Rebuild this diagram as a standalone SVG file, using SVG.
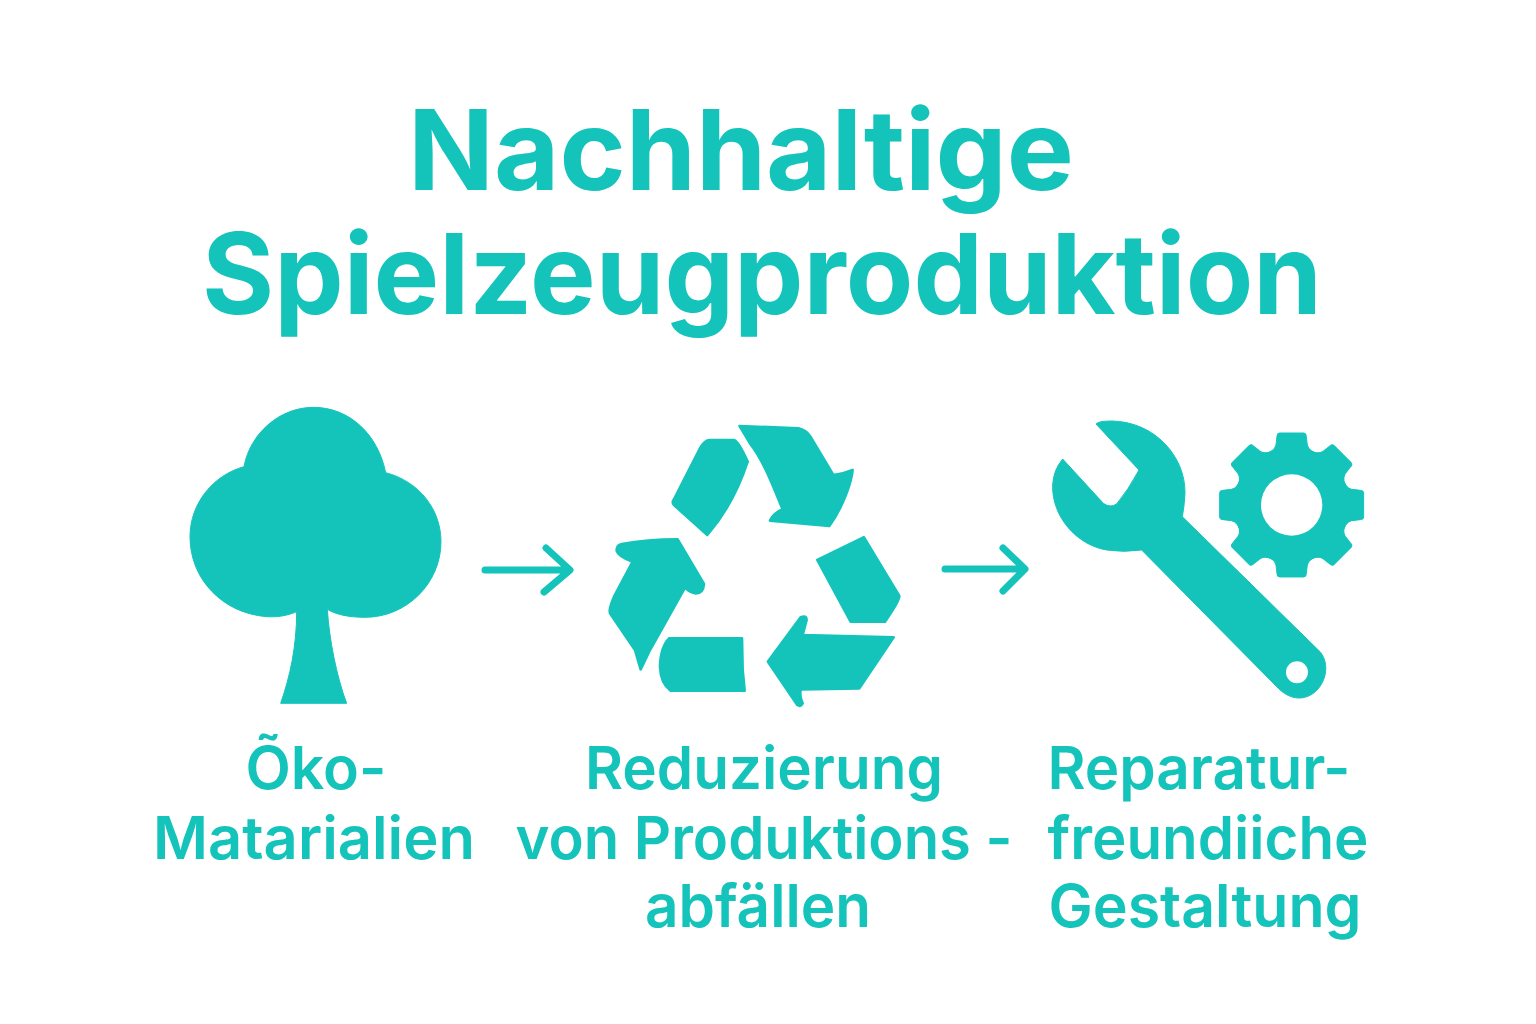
<svg xmlns="http://www.w3.org/2000/svg" xmlns:xlink="http://www.w3.org/1999/xlink" width="1536" height="1024" viewBox="0 0 1536 1024">
<style>
text{font-family:Inter,"Liberation Sans",sans-serif;fill:#14c4bb;text-anchor:middle}
.t{font-size:112px;font-weight:650}
.l{font-size:59px;font-weight:630}
.i{fill:#14c4bb;stroke:#14c4bb;stroke-width:3;stroke-linejoin:round}
.a{fill:none;stroke:#14c4bb;stroke-width:7;stroke-linecap:round;stroke-linejoin:round}
</style>
<defs><path id="tooth" class="i" d="M-36 -216H36Q44 -216 44 -206L47 -180Q52 -160 84 -152L-84 -152Q-52 -160 -47 -180L-44 -206Q-44 -216 -36 -216Z"/></defs>
<rect width="1536" height="1024" fill="#fff"/>
<g id="title">
<text class="t" x="741" y="190" textLength="666" lengthAdjust="spacingAndGlyphs">Nachhaltige</text>
<text class="t" x="762" y="314" textLength="1120" lengthAdjust="spacingAndGlyphs">Spielzeugproduktion</text>
</g>
<g id="node-materials">
<path class="i" transform="translate(180 400) scale(.3333)" d="M400 22C510 22 595 105 617 218C720 245 783 330 783 425C783 550 680 652 555 652C510 652 470 645 442 628C448 720 470 830 500 910L302 910C330 830 350 740 350 635C320 648 290 652 260 650C130 640 30 540 30 410C30 310 100 225 192 200C210 100 300 22 400 22Z"/>
<text class="l" x="316" y="789">Õko-</text>
<text class="l" x="314" y="859" textLength="322" lengthAdjust="spacingAndGlyphs">Matarialien</text>
</g>
<g id="node-waste">
<g transform="translate(590 410) scale(.3333)" class="i" style="stroke-width:8">
<path d="M358 90L432 90Q445 92 473 155C455 210 425 290 352 375L252 285Q245 278 252 268L330 115Q342 92 358 90Z"/>
<path d="M449 48L625 55Q648 60 660 78L730 195Q760 192 788 180C785 215 760 290 718 348L540 332Q550 310 578 298C550 230 520 150 480 100Z"/>
<path d="M263 388L342 522Q340 550 318 550Q300 548 285 533L180 720L152 778L135 720L60 610Q55 600 72 560L128 455Q85 440 80 422Q80 405 95 402Q170 388 263 388Z"/>
<path d="M238 685L456 685L458 780L464 842L242 842Q212 820 210 770Q212 710 238 685Z"/>
<path d="M822 382L928 558Q930 570 885 635L782 635L682 450Z"/>
<path d="M911 682L808 835L632 838Q628 860 638 880Q632 892 622 885L534 755L632 622Q650 615 650 630L638 675Z"/>
</g>
<text class="l" x="764" y="789" textLength="358" lengthAdjust="spacingAndGlyphs">Reduzierung</text>
<text class="l" x="764" y="859" textLength="497" lengthAdjust="spacingAndGlyphs">von Produktions -</text>
<text class="l" x="758" y="927" textLength="226" lengthAdjust="spacingAndGlyphs">abfällen</text>
</g>
<g id="node-repair">
<g transform="translate(1040 410) scale(.3333)">
<path class="i" d="M168 42Q175 33 215 33C345 35 437 140 435 250Q433 290 427 320L840 725C870 760 860 820 820 850C785 875 745 865 715 835L305 420Q250 428 200 420C110 405 35 320 38 225Q40 180 68 147L190 280Q210 295 230 282Q265 240 297 180Z"/>
<circle cx="771" cy="787" r="33" fill="#fff"/>
<g transform="translate(755 285)">
<circle r="172" class="i"/>
<use xlink:href="#tooth"/><use xlink:href="#tooth" transform="rotate(45)"/><use xlink:href="#tooth" transform="rotate(90)"/><use xlink:href="#tooth" transform="rotate(135)"/><use xlink:href="#tooth" transform="rotate(180)"/><use xlink:href="#tooth" transform="rotate(225)"/><use xlink:href="#tooth" transform="rotate(270)"/><use xlink:href="#tooth" transform="rotate(315)"/>
<circle r="92" fill="#fff"/>
</g>
</g>
<text class="l" x="1199" y="789" textLength="303" lengthAdjust="spacingAndGlyphs">Reparatur-</text>
<text class="l" x="1208" y="859" textLength="321" lengthAdjust="spacingAndGlyphs">freundiiche</text>
<text class="l" x="1205" y="927" textLength="313" lengthAdjust="spacingAndGlyphs">Gestaltung</text>
</g>
<g id="connectors">
<path class="a" d="M485 570H569M546 548L570 570L544 592"/>
<path class="a" d="M945 569H1024M1003 548L1025 569L1003 591"/>
</g>
</svg>
